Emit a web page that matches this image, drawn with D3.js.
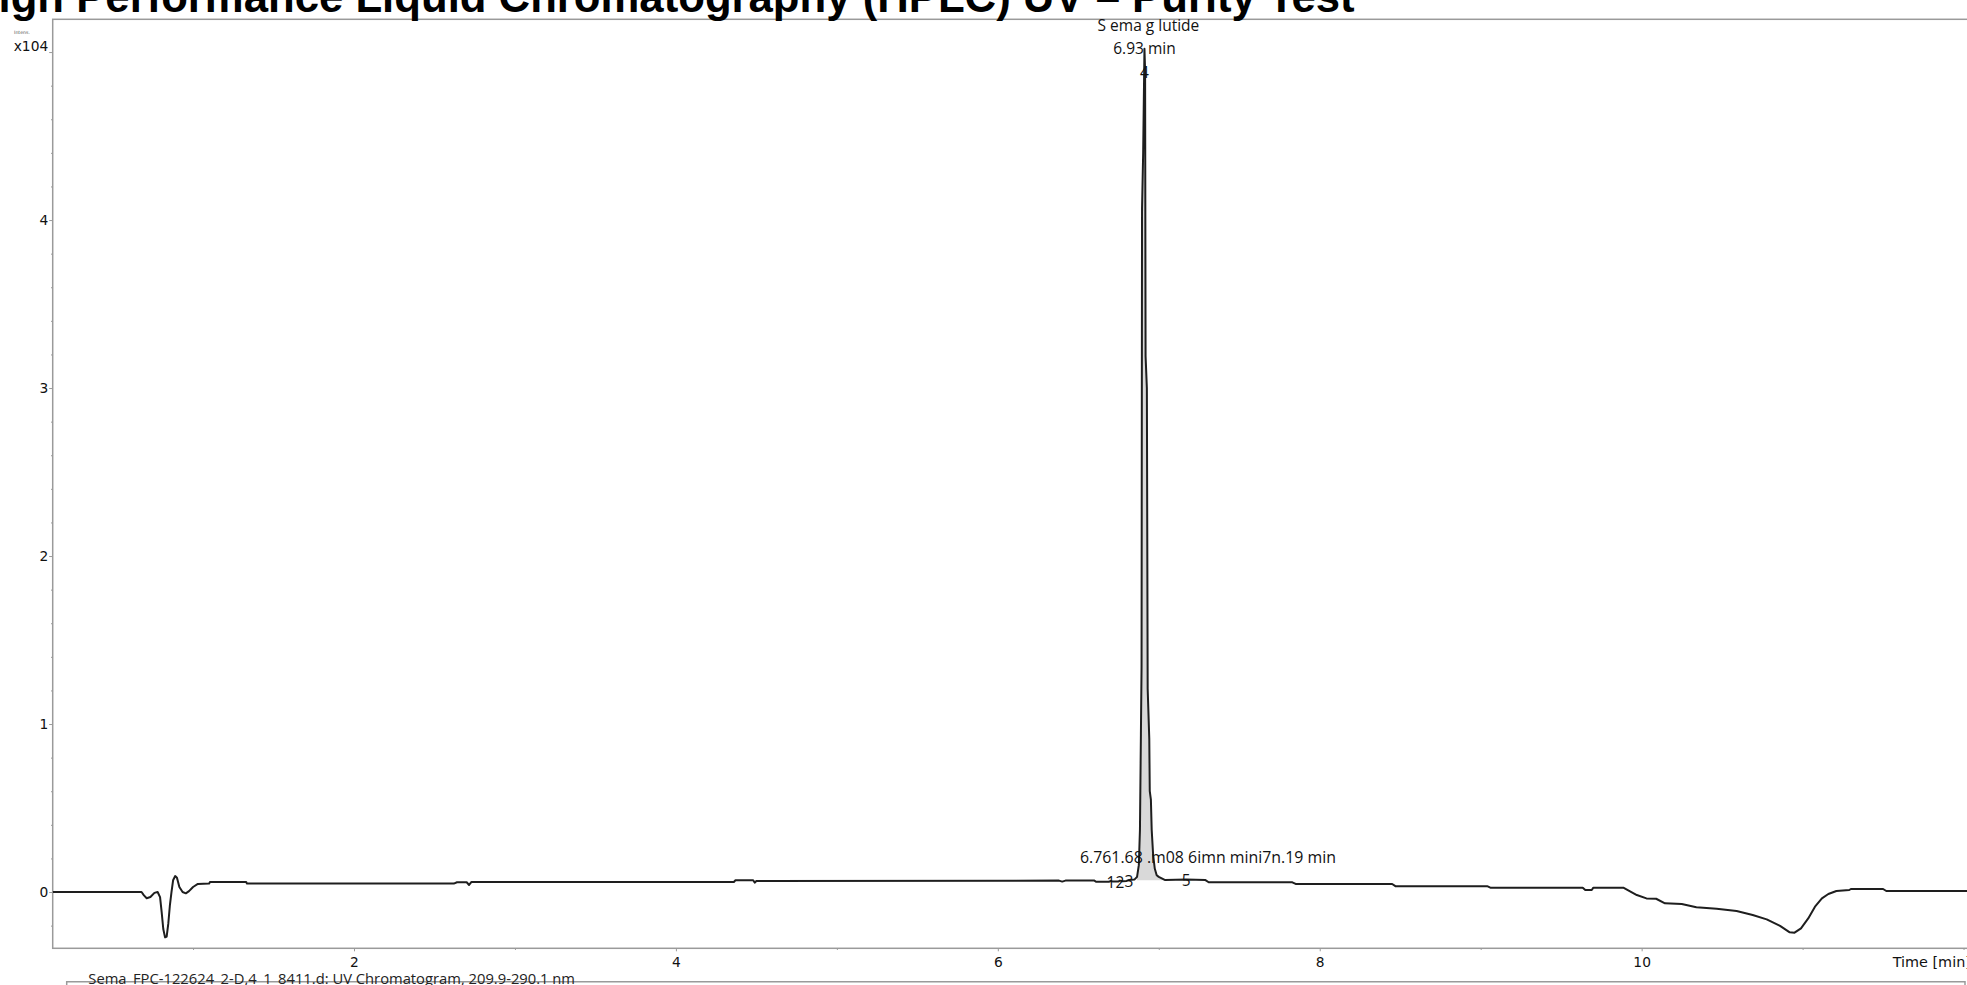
<!DOCTYPE html>
<html>
<head>
<meta charset="utf-8">
<script src="https://cdn.jsdelivr.net/npm/d3@7"></script>
<style>
  body { margin: 0; background: #fff; overflow: hidden; }
  .axis line { stroke: #9a9a9a; }
  .axis path { display: none; }
</style>
</head>
<body>
<div class="canvas"></div>
<script>
// chromatogram trace: retention time (min) and intensity (x10^4)
const times = [
  0.128, 0.68, 0.695, 0.712, 0.735, 0.76, 0.78, 0.795, 0.805, 0.815, 0.826, 0.836, 0.846, 0.856,
  0.866, 0.876, 0.889, 0.9, 0.915, 0.935, 0.955, 0.975, 1.0, 1.03, 1.10, 1.105, 1.33, 1.335,
  2.62, 2.64, 2.70, 2.715, 2.73, 4.36, 4.37, 4.48, 4.49, 4.50, 6.38, 6.40, 6.42, 6.60, 6.61,
  6.69, 6.703, 6.715, 6.75, 6.759, 6.775, 6.80, 6.815, 6.85, 6.865, 6.876, 6.883, 6.889, 6.893,
  6.896, 6.903, 6.911, 6.915, 6.918, 6.926, 6.931, 6.941, 6.944, 6.951, 6.956, 6.965, 6.975,
  6.987, 7.0, 7.04, 7.17, 7.29, 7.31, 7.83, 7.85, 8.45, 8.47, 9.04, 9.06, 9.634, 9.65, 9.69,
  9.70, 9.886, 9.97, 10.03, 10.09, 10.145, 10.249, 10.34, 10.466, 10.59, 10.69, 10.777, 10.86,
  10.92, 10.95, 10.99, 11.035, 11.077, 11.12, 11.16, 11.21, 11.29, 11.30, 11.50, 11.52, 12.05
];
const intensities = [
  0, 0, -0.02, -0.037, -0.03, -0.005, 0.0, -0.03, -0.12, -0.22, -0.27, -0.265, -0.19, -0.08,
  0.0, 0.07, 0.095, 0.085, 0.03, 0.0, -0.008, 0.005, 0.03, 0.048, 0.05, 0.06, 0.06, 0.05,
  0.05, 0.058, 0.058, 0.042, 0.06, 0.06, 0.07, 0.07, 0.056, 0.066, 0.068, 0.062, 0.068, 0.068, 0.061,
  0.061, 0.066, 0.062, 0.063, 0.068, 0.064, 0.066, 0.072, 0.075, 0.09, 0.16, 0.37, 0.94, 1.34,
  4.07, 4.40, 5.02, 4.89, 3.19, 3.0, 1.21, 0.91, 0.60, 0.55, 0.37, 0.22, 0.14,
  0.10, 0.09, 0.071, 0.075, 0.071, 0.058, 0.058, 0.048, 0.048, 0.035, 0.035, 0.026, 0.026, 0.012, 0.012,
  0.026, 0.026, -0.018, -0.038, -0.04, -0.067, -0.071, -0.091, -0.099, -0.113, -0.137, -0.163, -0.202,
  -0.24, -0.242, -0.216, -0.157, -0.087, -0.038, -0.012, 0.006, 0.012, 0.018, 0.018, 0.006, 0.006
];

// integrated peaks
const peakNumbers = ['1', '2', '3', '4', '5'];
const peakTimes = [6.703, 6.759, 6.815, 6.911, 7.17];
const mainPeakStart = 6.865;
const mainPeakEnd = 7.04;

// texts
const titleText = 'High Performance Liquid Chromatography (HPLC) UV \u2013 Purity Test';
const compoundName = 'S ema g lutide';
const mainPeakLabel = '6.93 min';
const minorPeakLabel = '6.761.68 .m08 6imn mini7n.19 min';
const traceName = 'Sema_FPC-122624_2-D,4_1_8411.d: UV Chromatogram, 209.9-290.1 nm';

// axis ticks
const xTickValues = [2, 4, 6, 8, 10];
const xMinorValues = [1, 3, 5, 7, 9, 11, 12];
const yTickValues = [0, 1, 2, 3, 4, 5];
const yTickLabels = ['0', '1', '2', '3', '4', 'x104'];

const width = 1967;
const height = 985;
const frame = { left: 52.7, top: 19.3, right: 1971.6, bottom: 948.3 };
const tickFont = '"DejaVu Sans", Verdana, sans-serif';
const labelFont = '"Open Sans", "Noto Sans", sans-serif';

// create svg
const svg = d3.select('.canvas')
  .append('svg')
    .attr('width', width)
    .attr('height', height);

// scales
const x = d3.scaleLinear()
  .domain([0.128, 12.05])
  .range([frame.left, frame.right]);

const y = d3.scaleLinear()
  .domain([-0.335, 5.195])
  .range([frame.bottom, frame.top]);

// clip the trace to the plot frame
svg.append('clipPath')
    .attr('id', 'plot-clip')
  .append('rect')
    .attr('x', frame.left)
    .attr('y', frame.top)
    .attr('width', frame.right - frame.left)
    .attr('height', frame.bottom - frame.top);

// frame
svg.append('rect')
  .attr('x', frame.left)
  .attr('y', frame.top)
  .attr('width', frame.right - frame.left)
  .attr('height', frame.bottom - frame.top)
  .attr('fill', 'none')
  .attr('stroke', '#9a9a9a')
  .attr('stroke-width', 1.5);

// x axis, major and minor ticks
const xAxis = svg.append('g')
  .attr('class', 'axis')
  .attr('transform', `translate(0,${frame.bottom})`)
  .call(d3.axisBottom(x).tickValues(xTickValues).tickSize(3).tickPadding(5.7));

svg.append('g')
  .attr('class', 'axis')
  .attr('transform', `translate(0,${frame.bottom})`)
  .call(d3.axisBottom(x).tickValues(xMinorValues).tickSize(1.7).tickFormat(''));

// y axis, major and minor ticks
const yAxis = svg.append('g')
  .attr('class', 'axis')
  .attr('transform', `translate(${frame.left},0)`)
  .call(d3.axisLeft(y).tickValues(yTickValues).tickSize(3.5).tickPadding(1)
    .tickFormat((d, i) => yTickLabels[i]));

const yMinor = d3.range(-1, 26).map(i => +(i * 0.2).toFixed(1)).filter(v => v % 1 !== 0);
svg.append('g')
  .attr('class', 'axis')
  .attr('transform', `translate(${frame.left},0)`)
  .call(d3.axisLeft(y).tickValues(yMinor).tickSize(1.7).tickFormat(''));

[xAxis, yAxis].forEach(g => g.selectAll('text')
  .attr('font-family', tickFont)
  .attr('font-size', '13.8px')
  .attr('fill', '#111'));

// the exponent label sits a little above its tick
yAxis.selectAll('.tick')
  .filter(d => d === 5)
  .select('text')
    .attr('dy', '-0.1em');

// axis captions
svg.append('text')
  .attr('x', x(11.56))
  .attr('y', 966.7)
  .attr('font-family', tickFont)
  .attr('font-size', '14.4px')
  .attr('fill', '#111')
  .text('Time [min]');

svg.append('text')
  .attr('x', 14)
  .attr('y', 34.3)
  .attr('font-family', tickFont)
  .attr('font-size', '4.7px')
  .attr('fill', '#555')
  .text('Intens.');

// shaded area of the integrated main peak
const trace = d3.zip(times, intensities);
const peakArea = trace.filter(d => d[0] >= mainPeakStart && d[0] <= mainPeakEnd);

svg.append('path')
  .datum(peakArea)
  .attr('clip-path', 'url(#plot-clip)')
  .attr('fill', '#d9d9d9')
  .attr('d', d3.area()
    .x(d => x(d[0]))
    .y0(y(0.07))
    .y1(d => y(d[1])));

// chromatogram line
svg.append('path')
  .datum(trace)
  .attr('clip-path', 'url(#plot-clip)')
  .attr('fill', 'none')
  .attr('stroke', '#1e1e1e')
  .attr('stroke-width', 2)
  .attr('stroke-linejoin', 'round')
  .attr('d', d3.line()
    .x(d => x(d[0]))
    .y(d => y(d[1])));

// intensity of the trace at a given time
const valueAt = t => {
  const i = d3.bisectLeft(times, t);
  if (i <= 0) return intensities[0];
  if (i >= times.length) return intensities[intensities.length - 1];
  const f = (t - times[i - 1]) / (times[i] - times[i - 1]);
  return intensities[i - 1] + f * (intensities[i] - intensities[i - 1]);
};

// peak numbers
const mainIndex = peakNumbers.indexOf('4');
svg.selectAll('.peak-number')
  .data(peakNumbers)
  .enter()
  .append('text')
    .attr('class', 'peak-number')
    .attr('x', (d, i) => x(peakTimes[i]))
    .attr('y', (d, i) => y(valueAt(peakTimes[i])) + (i === mainIndex ? 23 : 1))
    .attr('text-anchor', 'middle')
    .attr('dominant-baseline', 'central')
    .attr('font-family', labelFont)
    .attr('font-size', '15.5px')
    .attr('fill', '#111')
    .text(d => d);

// compound and retention time labels
const apexY = y(d3.max(intensities));
const apexX = x(peakTimes[mainIndex]);

svg.append('text')
  .attr('x', apexX + 4)
  .attr('y', apexY - 24)
  .attr('text-anchor', 'middle')
  .attr('dominant-baseline', 'central')
  .attr('font-family', labelFont)
  .attr('font-size', '15.5px')
  .attr('fill', '#111')
  .text(compoundName);

svg.append('text')
  .attr('x', apexX)
  .attr('y', apexY - 1)
  .attr('text-anchor', 'middle')
  .attr('dominant-baseline', 'central')
  .attr('font-family', labelFont)
  .attr('font-size', '15.5px')
  .attr('fill', '#111')
  .text(mainPeakLabel);

svg.append('text')
  .attr('x', x(6.51))
  .attr('y', y(0.21))
  .attr('dominant-baseline', 'central')
  .attr('font-family', labelFont)
  .attr('font-size', '15.9px')
  .attr('fill', '#111')
  .text(minorPeakLabel);

// legend box of the trace (cut by the page edge)
svg.append('path')
  .attr('d', `M66.7,${height + 5}V981.7H1965V${height + 5}`)
  .attr('fill', 'none')
  .attr('stroke', '#9a9a9a')
  .attr('stroke-width', 1.5);

svg.append('text')
  .attr('x', 88.3)
  .attr('y', 984.3)
  .attr('font-family', labelFont)
  .attr('font-size', '14.75px')
  .attr('fill', '#222')
  .text(traceName);

// title, cut by the page edge
svg.append('text')
  .attr('x', -33)
  .attr('y', 12)
  .attr('font-family', '"Liberation Sans", Arial, sans-serif')
  .attr('font-weight', 'bold')
  .attr('font-size', '43.7px')
  .attr('fill', '#000')
  .text(titleText);
</script>
</body>
</html>
